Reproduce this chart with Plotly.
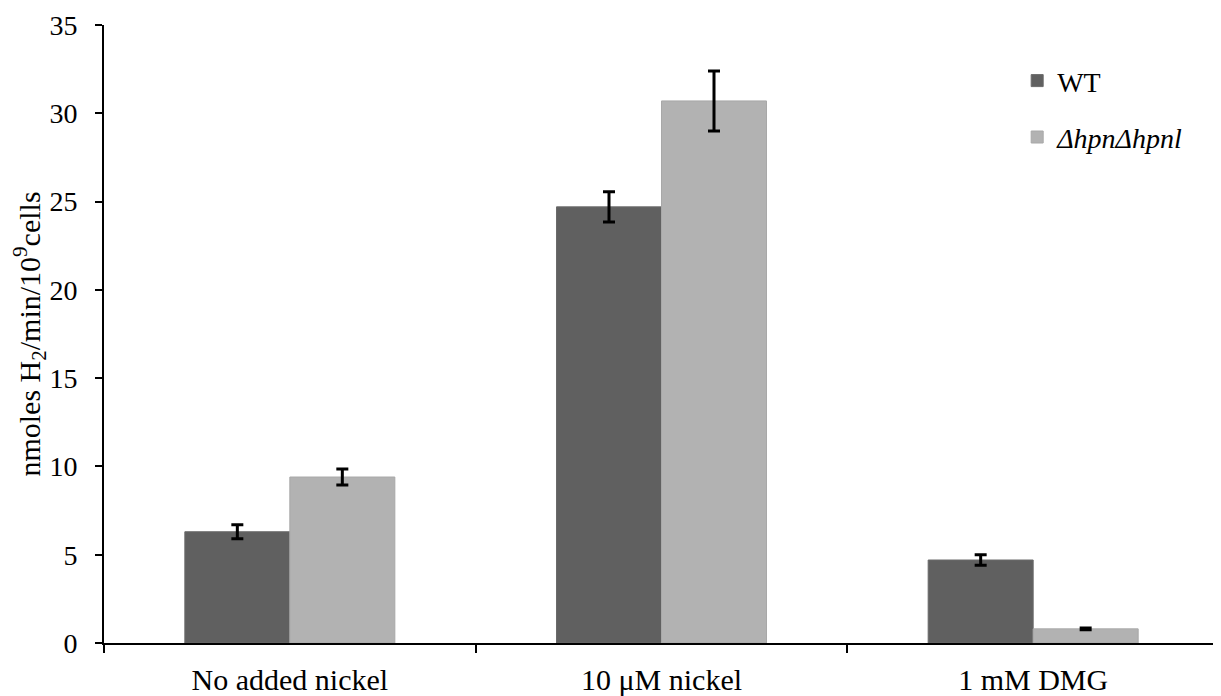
import plotly.graph_objects as go

categories = ["No added nickel", "10 μM nickel", "1 mM DMG"]
wt_values = [6.3, 24.7, 4.7]
wt_errors = [0.4, 0.85, 0.3]
mut_values = [9.4, 30.7, 0.8]
mut_errors = [0.45, 1.7, 0.05]
y_ticks = [0, 5, 10, 15, 20, 25, 30, 35]

font_family = "Liberation Serif"

fig = go.Figure()
fig.add_trace(go.Bar(
    x=categories, y=wt_values, name="WT", legendgroup="a",
    marker=dict(color="#606060", line=dict(color="#6a6a6a", width=1)),
    error_y=dict(type="data", array=wt_errors, color="black", thickness=3, width=6),
))
fig.add_trace(go.Bar(
    x=categories, y=mut_values, name="<i>ΔhpnΔhpnl</i>", legendgroup="b",
    marker=dict(color="#b2b2b2", line=dict(color="#a8a8a8", width=1)),
    error_y=dict(type="data", array=mut_errors, color="black", thickness=3, width=6),
))

fig.update_layout(
    width=1213, height=688,
    margin=dict(l=96, r=2, t=17, b=53, autoexpand=False),
    paper_bgcolor="white", plot_bgcolor="white",
    font=dict(family=font_family, size=28, color="black"),
    barmode="group", bargap=0.435, bargroupgap=0,
    legend=dict(x=0.819, y=0.95, xanchor="left", yanchor="top",
                tracegroupgap=17, font=dict(family=font_family, size=28),
                bgcolor="rgba(0,0,0,0)"),
)
fig.update_xaxes(
    showline=True, linecolor="black", linewidth=2,
    ticks="outside", tickson="boundaries", ticklen=8, tickwidth=2, tickcolor="black",
    tickfont=dict(family=font_family, size=30), showgrid=False,
    ticklabelstandoff=9,
)
fig.update_yaxes(
    range=[0, 35], tickvals=y_ticks,
    showline=True, linecolor="black", linewidth=2,
    ticks="outside", ticklen=7, tickwidth=2, tickcolor="black",
    tickfont=dict(family=font_family, size=28), showgrid=False, zeroline=False,
    ticklabelstandoff=12,
    title=dict(text="nmoles H<sub>2</sub>/min/10<sup>9</sup>cells",
               font=dict(family=font_family, size=30), standoff=3),
)
fig.write_html("out.html")
